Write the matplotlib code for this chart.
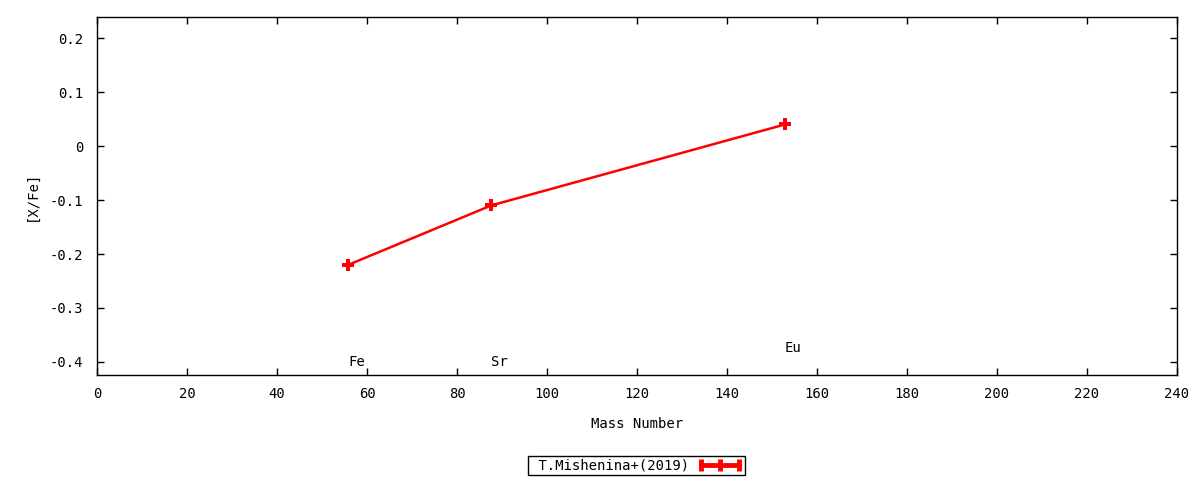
import matplotlib
matplotlib.use("Agg")
import matplotlib.pyplot as plt
from matplotlib.lines import Line2D
from matplotlib.legend_handler import HandlerLine2D

elements = ["Fe", "Sr", "Eu"]
mass = [55.85, 87.62, 152.9]
xfe = [-0.22, -0.11, 0.04]
label_y = [-0.40, -0.40, -0.375]
series_name = "T.Mishenina+(2019)"

plt.rcParams['font.family'] = ['DejaVu Sans Mono']
plt.rcParams['font.size'] = 10

fig = plt.figure(figsize=(12, 4.8), dpi=100)
ax = fig.add_axes([97/1200, 105/480, 1080/1200, 358/480])

ax.plot(mass, xfe, color='red', lw=1.8, marker='P', ms=8.5, mew=0)

for el, m, ly in zip(elements, mass, label_y):
    ax.text(m, ly, el, ha='left', va='center')

ax.set_xlim(0, 240)
ax.set_ylim(-0.4241, 0.239)
ax.set_xticks(range(0, 241, 20))
ax.set_yticks([-0.4, -0.3, -0.2, -0.1, 0, 0.1, 0.2])
ax.set_yticklabels(["-0.4", "-0.3", "-0.2", "-0.1", "0", "0.1", "0.2"])
ax.tick_params(axis='x', direction='in', length=5, width=1, top=True, pad=9)
ax.tick_params(axis='y', direction='in', length=5, width=1, right=True, pad=10)
for s in ax.spines.values():
    s.set_linewidth(1)

ax.set_xlabel("Mass Number", va='center')
ax.set_ylabel("[X/Fe]", va='center')
ax.xaxis.set_label_coords(0.5, (375 - 424) / 358)
ax.yaxis.set_label_coords((32 - 97) / 1080, 0.5)

handle = Line2D([0, 1], [0, 0], color='red', lw=3.5, marker='|', ms=9, mew=3.5)
leg = fig.legend([handle], [" " + series_name], loc='center',
                 bbox_to_anchor=(636.5/1200, 1 - 465.5/480),
                 markerfirst=False, frameon=True, fancybox=False,
                 edgecolor='black', framealpha=1, borderpad=0.15,
                 borderaxespad=0, handlelength=3.3, handletextpad=0.6,
                 handler_map={Line2D: HandlerLine2D(numpoints=3)})
leg.get_frame().set_linewidth(1)

fig.savefig("out.png", dpi=100)
